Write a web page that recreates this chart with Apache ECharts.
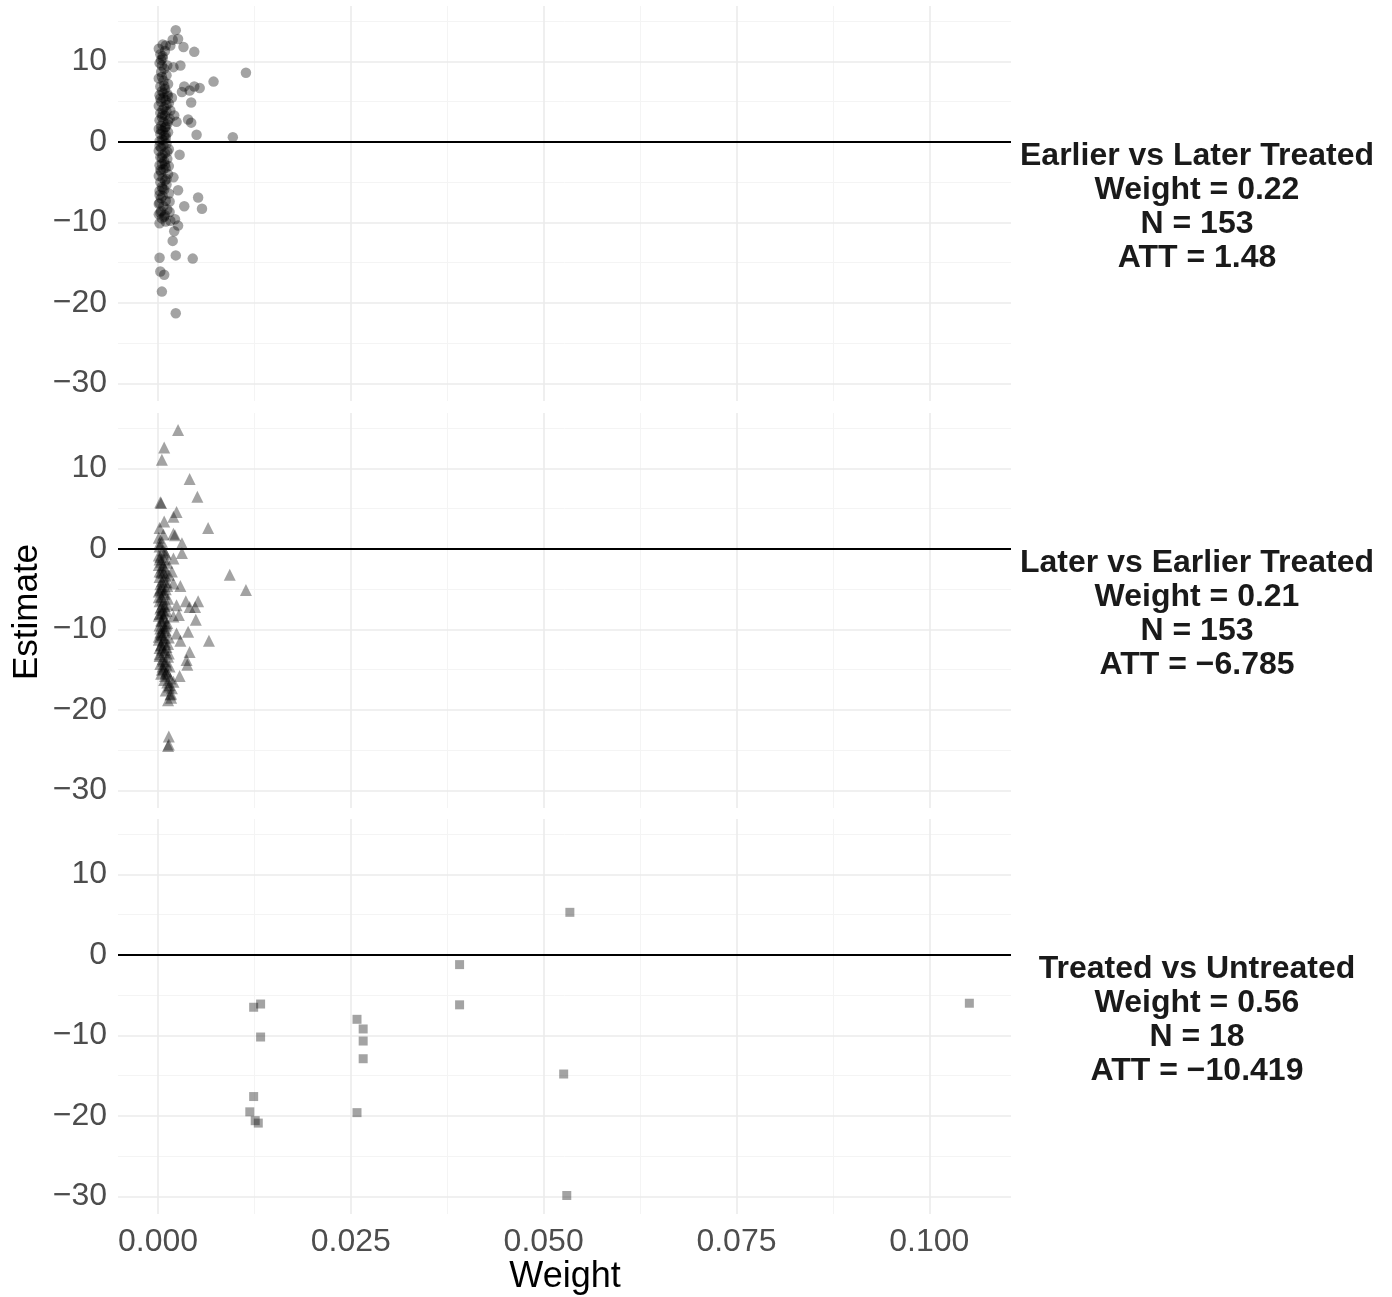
<!DOCTYPE html>
<html>
<head>
<meta charset="utf-8">
<script src="https://cdn.jsdelivr.net/npm/echarts@6/dist/echarts.min.js"></script>
<style>
  html, body { margin: 0; padding: 0; background: #fff; }
  #main { width: 1392px; height: 1297px; }
</style>
</head>
<body>
<div id="main"></div>
<script>
// ---- data: [weight, estimate] ----
const earlierVsLater = [
  // spread-out points
  [0.0023,13.9],[0.0026,12.8],[0.0019,12.7],[0.0033,11.8],[0.0047,11.2],[0.0010,12.0],[0.0016,12.0],
  [0.0006,10.7],[0.0114,8.6],[0.0020,9.3],[0.0029,9.5],[0.0005,9.5],[0.0072,7.5],[0.0034,6.9],
  [0.0047,6.9],[0.0054,6.7],[0.0031,6.2],[0.0041,6.4],[0.0043,4.9],[0.0018,5.5],[0.0021,3.3],
  [0.0039,2.8],[0.0043,2.4],[0.0024,2.5],[0.0050,0.9],[0.0097,0.6],[0.0028,-1.6],[0.0020,-4.4],
  [0.0026,-6.0],[0.0052,-6.9],[0.0034,-8.0],[0.0057,-8.3],[0.0002,-7.6],[0.0015,-8.7],[0.0022,-9.6],
  [0.0026,-10.4],[0.0021,-11.1],[0.0019,-12.3],[0.0002,-14.4],[0.0023,-14.1],[0.0045,-14.5],
  [0.0003,-16.1],[0.0008,-16.5],[0.0005,-18.6],[0.0023,-21.3],
  // dense column near zero weight
  [0.0001,11.6],[0.0003,10.9],[0.0006,10.4],[0.0002,9.8],[0.0008,9.1],[0.0004,8.7],[0.0011,8.3],
  [0.0001,7.9],[0.0007,7.6],[0.0013,7.2],[0.0003,6.9],[0.0009,6.6],[0.0005,6.3],[0.0012,6.0],
  [0.0002,5.8],[0.0007,5.5],[0.0010,5.2],[0.0004,5.0],[0.0014,4.8],[0.0001,4.5],[0.0008,4.3],
  [0.0006,4.0],[0.0011,3.8],[0.0003,3.6],[0.0009,3.3],[0.0005,3.1],[0.0015,2.9],[0.0002,2.7],
  [0.0007,2.5],[0.0012,2.2],[0.0004,2.0],[0.0009,1.8],[0.0001,1.6],[0.0006,1.4],[0.0013,1.2],
  [0.0003,1.0],[0.0008,0.8],[0.0010,0.5],[0.0005,0.3],[0.0002,0.1],[0.0011,-0.2],[0.0007,-0.4],
  [0.0004,-0.7],[0.0014,-0.9],[0.0001,-1.1],[0.0009,-1.4],[0.0006,-1.6],[0.0003,-1.9],[0.0012,-2.1],
  [0.0008,-2.4],[0.0005,-2.7],[0.0002,-2.9],[0.0010,-3.2],[0.0007,-3.4],[0.0004,-3.7],[0.0013,-4.0],
  [0.0001,-4.2],[0.0006,-4.5],[0.0009,-4.8],[0.0003,-5.0],[0.0011,-5.3],[0.0005,-5.6],[0.0008,-5.9],
  [0.0002,-6.1],[0.0014,-6.4],[0.0006,-6.7],[0.0004,-7.0],[0.0010,-7.3],[0.0001,-7.7],[0.0007,-8.0],
  [0.0012,-8.4],[0.0003,-8.8],[0.0009,-9.1],[0.0005,-9.5],[0.0016,-9.8],[0.0002,-10.1],[0.0008,-9.3],
  [0.0006,12.1],[0.0009,11.3],[0.0004,10.2],[0.0012,9.5],[0.0003,5.4],[0.0011,4.6],[0.0006,3.4],
  [0.0013,2.6],[0.0004,1.5],[0.0010,0.9],[0.0007,0.2],[0.0002,-0.5],[0.0012,-1.2],[0.0005,-2.0],
  [0.0009,-2.8],[0.0003,-3.5],[0.0011,-4.6],[0.0006,-5.8],[0.0015,-7.4],[0.0004,-8.6],[0.0010,-9.9],
  [0.0001,-9.0],[0.0013,5.7],[0.0008,7.0],[0.0005,8.1],[0.0016,3.9],[0.0002,-6.6],[0.0014,-3.0],
  [0.0007,6.1],[0.0010,1.9]
];

const laterVsEarlier = [
  // spread-out points
  [0.0026,14.8],[0.0008,12.6],[0.0005,11.1],[0.0041,8.7],[0.0051,6.5],[0.0003,5.8],[0.0004,5.7],
  [0.0024,4.6],[0.0020,4.0],[0.0065,2.6],[0.0008,3.4],[0.0002,2.6],[0.0020,1.9],[0.0022,1.7],
  [0.0007,1.8],[0.0002,0.7],[0.0031,0.7],[0.0031,-0.5],[0.0093,-3.2],[0.0114,-5.1],[0.0020,-1.2],
  [0.0018,-2.8],[0.0020,-4.3],[0.0029,-4.6],[0.0052,-6.5],[0.0036,-6.5],[0.0041,-7.2],[0.0048,-7.2],
  [0.0024,-7.0],[0.0027,-8.2],[0.0020,-8.4],[0.0049,-8.8],[0.0039,-10.3],[0.0024,-10.5],[0.0066,-11.4],
  [0.0029,-11.4],[0.0041,-12.8],[0.0037,-13.8],[0.0038,-14.4],[0.0028,-15.8],[0.0020,-16.5],
  [0.0018,-17.3],[0.0016,-18.1],[0.0013,-18.8],[0.0014,-23.3],[0.0014,-24.3],[0.0013,-24.5],[0.0017,-18.5],
  // dense column near zero weight
  [0.0002,0.3],[0.0006,-0.2],[0.0010,-0.6],[0.0003,-1.0],[0.0008,-1.3],[0.0012,-1.7],[0.0001,-2.0],
  [0.0005,-2.3],[0.0009,-2.6],[0.0004,-2.9],[0.0014,-3.2],[0.0002,-3.5],[0.0007,-3.8],[0.0011,-4.1],
  [0.0003,-4.4],[0.0006,-4.7],[0.0010,-5.0],[0.0001,-5.3],[0.0008,-5.6],[0.0004,-5.9],[0.0013,-6.2],
  [0.0002,-6.5],[0.0006,-6.8],[0.0009,-7.1],[0.0003,-7.4],[0.0011,-7.7],[0.0005,-8.0],[0.0001,-8.3],
  [0.0008,-8.6],[0.0004,-8.9],[0.0012,-9.2],[0.0002,-9.5],[0.0007,-9.8],[0.0010,-10.1],[0.0003,-10.4],
  [0.0006,-10.7],[0.0014,-11.0],[0.0001,-11.3],[0.0009,-11.6],[0.0004,-11.9],[0.0011,-12.2],
  [0.0005,-12.5],[0.0008,-12.8],[0.0002,-13.1],[0.0013,-13.4],[0.0006,-13.7],[0.0010,-14.0],
  [0.0003,-14.3],[0.0015,-14.6],[0.0007,-14.9],[0.0011,-15.2],[0.0004,-15.5],[0.0009,-15.8],
  [0.0016,-16.1],[0.0012,-16.6],[0.0014,-17.1],[0.0010,-17.6],[0.0017,-18.0],
  [0.0001,-0.8],[0.0004,-1.6],[0.0007,-2.1],[0.0002,-2.8],[0.0010,-3.4],[0.0005,-4.0],[0.0003,-4.9],
  [0.0008,-5.4],[0.0001,-6.0],[0.0006,-6.3],[0.0012,-6.9],[0.0004,-7.2],[0.0009,-7.9],[0.0002,-8.1],
  [0.0007,-8.5],[0.0005,-9.0],[0.0011,-9.4],[0.0003,-9.9],[0.0008,-10.3],[0.0001,-10.9],[0.0006,-11.4],
  [0.0013,-11.8],[0.0004,-12.0],[0.0009,-12.6],[0.0002,-13.3],[0.0007,-13.9],[0.0011,-14.4],
  [0.0005,-15.0],[0.0013,-15.6],[0.0008,-16.3],[0.0015,-16.9],[0.0003,-5.1],[0.0007,-3.0],
  [0.0002,-1.3],[0.0009,-0.4],[0.0005,0.9],[0.0001,1.4],[0.0012,-4.6],[0.0006,-7.6],[0.0010,-9.6],
  [0.0004,-10.6],[0.0008,-11.1],[0.0002,-12.3],[0.0014,-13.0],[0.0006,-14.6],[0.0010,-15.4]
];

const treatedVsUntreated = [
  [0.0534,5.3],[0.0391,-1.2],[0.0391,-6.2],[0.1052,-6.0],[0.0124,-6.5],[0.0133,-6.1],
  [0.0133,-10.2],[0.0258,-8.0],[0.0266,-9.2],[0.0266,-10.7],[0.0266,-12.9],[0.0526,-14.8],
  [0.0124,-17.6],[0.0119,-19.5],[0.0258,-19.6],[0.0126,-20.6],[0.0130,-20.9],[0.0530,-29.9]
];

const stripLabels = [
  'Earlier vs Later Treated\nWeight = 0.22\nN = 153\nATT = 1.48',
  'Later vs Earlier Treated\nWeight = 0.21\nN = 153\nATT = \u22126.785',
  'Treated vs Untreated\nWeight = 0.56\nN = 18\nATT = \u221210.419'
];

const xMajor = [0, 0.025, 0.05, 0.075, 0.1];
const xMinor = [0.0125, 0.0375, 0.0625, 0.0875];
const yMajor = [-30, -20, -10, 0, 10];
const yMinor = [-25, -15, -5, 5, 15];

// ---- layout ----
const FONT = 'Liberation Sans, Arial, Helvetica, sans-serif';
const panelTops = [6, 413, 819];
const panelH = 395;
const X_MIN = -0.00519, X_MAX = 0.1106;
const Y_MIN = -32.2, Y_MAX = 16.9;

const chart = echarts.init(document.getElementById('main'));

const grids = panelTops.map(t => ({ left: 118, width: 893, top: t, height: panelH }));

const xAxes = panelTops.map((t, i) => ({
  type: 'value', gridIndex: i, min: X_MIN, max: X_MAX,
  axisLine: { show: false }, axisTick: { show: false }, splitLine: { show: false },
  axisLabel: {
    show: i === 2, customValues: xMajor, margin: 12,
    fontSize: 32, color: '#4d4d4d', fontFamily: FONT,
    formatter: v => v.toFixed(3)
  }
}));

const yAxes = panelTops.map((t, i) => ({
  type: 'value', gridIndex: i, min: Y_MIN, max: Y_MAX,
  axisLine: { show: false }, axisTick: { show: false }, splitLine: { show: false },
  axisLabel: {
    customValues: yMajor, margin: 11, padding: [4, 0, 0, 0],
    fontSize: 32, color: '#4d4d4d', fontFamily: FONT,
    formatter: v => String(v).replace('-', '\u2212')
  }
}));

// gridlines as coord pairs so nothing gets rounded
function gridLines(i) {
  const minor = { color: '#f4f4f4', width: 1, type: 'solid' };
  const major = { color: '#ebebeb', width: 1.6, type: 'solid' };
  const d = [];
  const vLine = (v, ls) => d.push([{ coord: [v, Y_MIN], lineStyle: ls }, { coord: [v, Y_MAX] }]);
  const hLine = (v, ls) => d.push([{ coord: [X_MIN, v], lineStyle: ls }, { coord: [X_MAX, v] }]);
  xMinor.forEach(v => vLine(v, minor));
  yMinor.forEach(v => hLine(v, minor));
  xMajor.forEach(v => vLine(v, major));
  yMajor.forEach(v => hLine(v, major));
  return {
    type: 'scatter', xAxisIndex: i, yAxisIndex: i, data: [], z: 1, silent: true,
    markLine: { silent: true, z: 1, symbol: 'none', label: { show: false }, animation: false, data: d }
  };
}

function zeroLine(i) {
  return {
    type: 'scatter', xAxisIndex: i, yAxisIndex: i, data: [], z: 5, silent: true,
    markLine: {
      silent: true, z: 5, symbol: 'none', label: { show: false }, animation: false,
      data: [[{ coord: [X_MIN, 0], lineStyle: { color: '#000', width: 2, type: 'solid' } }, { coord: [X_MAX, 0] }]]
    }
  };
}

const series = [
  gridLines(0), gridLines(1), gridLines(2),
  {
    type: 'scatter', xAxisIndex: 0, yAxisIndex: 0, z: 3, data: earlierVsLater,
    symbol: 'circle', symbolSize: 10.5, itemStyle: { color: 'rgba(0,0,0,0.45)' }
  },
  {
    type: 'scatter', xAxisIndex: 1, yAxisIndex: 1, z: 3, data: laterVsEarlier,
    symbol: 'triangle', symbolSize: 12, itemStyle: { color: 'rgba(0,0,0,0.45)' }
  },
  {
    type: 'scatter', xAxisIndex: 2, yAxisIndex: 2, z: 3, data: treatedVsUntreated,
    symbol: 'rect', symbolSize: 9, itemStyle: { color: 'rgba(0,0,0,0.45)' }
  },
  zeroLine(0), zeroLine(1), zeroLine(2)
];

const graphic = [
  {
    type: 'text', x: 565, y: 1277, style: {
      text: 'Weight', x: 0, y: 0, align: 'center', verticalAlign: 'middle',
      fontSize: 36, fontFamily: FONT, fill: '#000'
    }
  },
  {
    type: 'text', rotation: Math.PI / 2, x: 27, y: 612, style: {
      text: 'Estimate', x: 0, y: 0, align: 'center', verticalAlign: 'middle',
      fontSize: 35, fontFamily: FONT, fill: '#000'
    }
  }
].concat(stripLabels.map((s, i) => ({
  type: 'text', x: 1197, y: panelTops[i] + panelH / 2 + 4, style: {
    text: s, x: 0, y: 0, align: 'center', verticalAlign: 'middle',
    fontSize: 32, fontWeight: 'bold', fontFamily: FONT, fill: '#1a1a1a', lineHeight: 34
  }
})));

chart.setOption({
  animation: false,
  backgroundColor: '#ffffff',
  grid: grids,
  xAxis: xAxes,
  yAxis: yAxes,
  series: series,
  graphic: graphic
});
</script>
</body>
</html>
